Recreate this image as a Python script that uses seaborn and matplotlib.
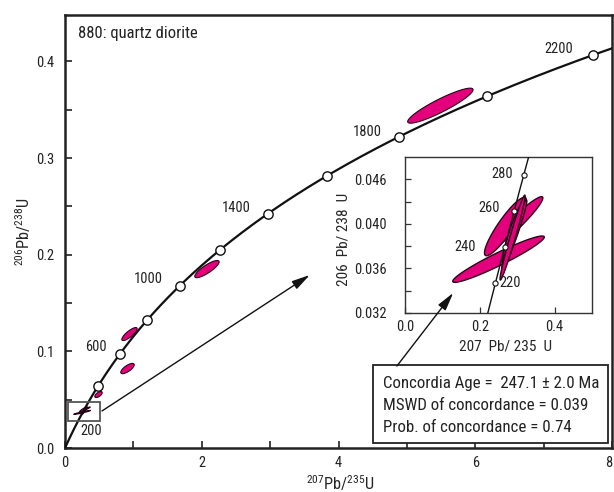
import numpy as np
import pandas as pd
import matplotlib
matplotlib.use("Agg")
import matplotlib.pyplot as plt
import seaborn as sns
from matplotlib import font_manager
from matplotlib.patches import Rectangle
from matplotlib.ticker import FixedLocator

# ---------------- data ----------------
lambda_238 = 1.55125e-10
lambda_235 = 9.8485e-10

sample_name = "880: quartz diorite"

main_marker_ages = [400, 600, 800, 1000, 1200, 1400, 1600, 1800, 2000, 2200]
main_label_ages = ["200", "600", "1000", "1400", "1800", "2200"]
inset_marker_ages = [220, 240, 260, 280]
inset_label_ages = ["220", "240", "260", "280"]

# older spots (207/235 centre, half-extent, 206/238 centre, half-extent, rho)
spot_x = [5.49, 2.076, 0.943, 0.914, 0.490]
spot_sx = [0.478, 0.178, 0.112, 0.098, 0.054]
spot_y = [0.3542, 0.1851, 0.1179, 0.0822, 0.0553]
spot_sy = [0.0181, 0.0089, 0.0067, 0.0053, 0.0031]
spot_rho = [0.91, 0.84, 0.82, 0.73, 0.62]

# young concordant cluster (shown in the inset)
young_x = [0.250, 0.298, 0.2685, 0.2894, 0.2921, 0.2876]
young_sx = [0.1224, 0.0706, 0.0560, 0.0290, 0.0337, 0.0335]
young_y = [0.03683, 0.04012, 0.03976, 0.03918, 0.0390, 0.03877]
young_sy = [0.00208, 0.00232, 0.00262, 0.00272, 0.00314, 0.00381]
young_rho = [0.953, 0.950, 0.90, 0.91, 0.969, 0.975]

concordia_age = "247.1"
concordia_err = "2.0"
mswd = "0.039"
prob = "0.74"

main_xticks = [0, 2, 4, 6, 8]
main_xtick_labels = ["0", "2", "4", "6", "8"]
main_yticks = [0.0, 0.1, 0.2, 0.3, 0.4]
main_ytick_labels = ["0.0", "0.1", "0.2", "0.3", "0.4"]
inset_xticks = [0.0, 0.2, 0.4]
inset_xtick_labels = ["0.0", "0.2", "0.4"]
inset_yticks = [0.032, 0.036, 0.040, 0.044]
inset_ytick_labels = ["0.032", "0.036", "0.040", "0.046"]

# ---------------- layout ----------------
main_label_pos = [(0.39, 0.0176), (0.458, 0.1044), (1.215, 0.1748),
                  (2.51, 0.2479), (4.42, 0.3268), (7.22, 0.4126)]
inset_label_pos = [(0.282, 0.03472), (0.1611, 0.03795),
                   (0.2237, 0.04139), (0.2596, 0.04447)]

# ---------------- style ----------------
sns.set_theme(style="ticks")
fl = font_manager.fontManager.ttflist
names = {f.name for f in fl}
FONT, STRETCH, K = None, "normal", 1.0
for cand, k in [("Liberation Sans Narrow", 1.0), ("Roboto Condensed", 0.95),
                ("Noto Sans Condensed", 0.95), ("Open Sans Condensed", 0.92)]:
    if cand in names:
        FONT, K = cand, k
        break
if FONT is None:
    cond_fams = [f.name for f in fl if f.stretch in ("condensed", "semi-condensed")
                 and f.style == "normal" and f.weight in (400, "normal", "regular")]
    for pref in ["Roboto", "Noto Sans", "Open Sans", "DejaVu Sans"]:
        if pref in cond_fams:
            FONT, STRETCH = pref, "condensed"
            K = 0.95 if pref != "DejaVu Sans" else 0.80
            break
if FONT is None:
    FONT, K = "DejaVu Sans", 0.72

plt.rcParams["font.family"] = [FONT, "DejaVu Sans"]
plt.rcParams["font.stretch"] = STRETCH
plt.rcParams["mathtext.fontset"] = "custom"
plt.rcParams["mathtext.rm"] = FONT
plt.rcParams["mathtext.it"] = FONT
plt.rcParams["mathtext.bf"] = FONT
plt.rcParams["text.color"] = "#222222"

FS_TICK = 11 * K
FS_LAB = 12.4 * K
FS_TITLE = 12.6 * K
FS_BOX = 12.8 * K

MAGENTA = "#E4007C"
EDGE = "#2a0018"


def ellipse(cx, cy, sx, sy, rho, n=160):
    th = np.linspace(0, 2 * np.pi, n)
    u = np.cos(th)
    v = rho * np.cos(th) + np.sqrt(1 - rho ** 2) * np.sin(th)
    return cx + sx * u, cy + sy * v


def concordia(t0, t1, n=400):
    t = np.linspace(t0, t1, n) * 1e6
    return pd.DataFrame({"x": np.expm1(lambda_235 * t), "y": np.expm1(lambda_238 * t)})


def age_points(ages):
    t = np.asarray(ages, dtype=float) * 1e6
    return pd.DataFrame({"x": np.expm1(lambda_235 * t), "y": np.expm1(lambda_238 * t)})


fig = plt.figure(figsize=(6.14, 4.92), dpi=100)
fig.patch.set_facecolor("white")

# ---------------- main axes ----------------
ax = fig.add_axes([65 / 614, 44 / 492, 547 / 614, 433 / 492])
ax.set_facecolor("white")
ax.set_xlim(0, 8)
ax.set_ylim(0, 0.448)

for cx, sx, cy, sy, r in zip(spot_x + young_x, spot_sx + young_sx,
                             spot_y + young_y, spot_sy + young_sy,
                             spot_rho + young_rho):
    ex, ey = ellipse(cx, cy, sx, sy, r)
    ax.fill(ex, ey, facecolor=MAGENTA, edgecolor=EDGE, lw=0.8, zorder=2)

sns.lineplot(data=concordia(0, 2260), x="x", y="y", sort=False, estimator=None,
             color="#111111", lw=1.6, ax=ax, zorder=3, legend=False)
sns.scatterplot(data=age_points(main_marker_ages), x="x", y="y", s=45,
                color="white", edgecolor="#111111", linewidth=1.0, ax=ax,
                zorder=4, legend=False)

for lab, (lx, ly) in zip(main_label_ages, main_label_pos):
    ax.text(lx, ly, lab, ha="center", va="center", fontsize=FS_TICK, zorder=5)

ax.text(0.024, 0.958, sample_name, transform=ax.transAxes, ha="left", va="center",
        fontsize=FS_TITLE)

# zoom box
ax.add_patch(Rectangle((0.05, 0.028), 0.46, 0.020, fill=False, edgecolor="#555555",
                       lw=1.3, zorder=5))
ax.annotate("", xy=(3.58, 0.179), xytext=(0.541, 0.0383),
            arrowprops=dict(arrowstyle="-|>,head_length=1.1,head_width=0.28",
                            color="#111111", lw=1.0, shrinkA=0, shrinkB=0,
                            mutation_scale=10), zorder=5)

ax.set_xticks(main_xticks)
ax.set_xticklabels(main_xtick_labels)
ax.set_yticks(main_yticks)
ax.set_yticklabels(main_ytick_labels)
ax.get_xticklabels()[-1].set_horizontalalignment("right")
ax.xaxis.set_minor_locator(FixedLocator([1, 3, 5, 7]))
ax.yaxis.set_minor_locator(FixedLocator([0.05, 0.15, 0.25, 0.35]))
ax.tick_params(which="both", direction="in", length=5, width=1.2, color="#222222",
               labelsize=FS_TICK, labelcolor="#222222")
ax.tick_params(axis="y", which="both", pad=8)
ax.tick_params(axis="x", which="both", pad=6)
for s in ax.spines.values():
    s.set_linewidth(1.8)
    s.set_color("#222222")

ax.set_xlabel(r"$^{207}$Pb/$^{235}$U", fontsize=FS_LAB)
ax.xaxis.set_label_coords(0.503, -0.058)
ax.set_ylabel(r"$^{206}$Pb/$^{238}$U", fontsize=FS_LAB, va="bottom")
ax.yaxis.set_label_coords(-0.058, 0.5)

# legend box with concordia age
ax.add_patch(Rectangle((0.563, 0.0115), 0.43, 0.180, transform=ax.transAxes,
                       facecolor="white", edgecolor="#222222", lw=1.3, zorder=6))
box_lines = [f"Concordia Age =  {concordia_age} \u00b1 {concordia_err} Ma",
             f"MSWD of concordance = {mswd}",
             f"Prob. of concordance = {prob}"]
for i, line in enumerate(box_lines):
    ax.text(0.581, 0.150 - i * 0.0508, line, transform=ax.transAxes, ha="left",
            va="center", fontsize=FS_BOX, zorder=7)

# ---------------- inset ----------------
ins = fig.add_axes([405 / 614, 179 / 492, 187 / 614, 156 / 492])
ins.set_facecolor("white")
ins.set_zorder(10)
ins.set_xlim(0, 0.5)
ins.set_ylim(0.032, 0.046)

for cx, sx, cy, sy, r in zip(young_x, young_sx, young_y, young_sy, young_rho):
    ex, ey = ellipse(cx, cy, sx, sy, r)
    ins.fill(ex, ey, facecolor=MAGENTA, edgecolor=EDGE, lw=1.0, zorder=2)

sns.lineplot(data=concordia(200, 300), x="x", y="y", sort=False, estimator=None,
             color="#111111", lw=1.0, ax=ins, zorder=3, legend=False)
sns.scatterplot(data=age_points(inset_marker_ages), x="x", y="y", s=14,
                color="white", edgecolor="#111111", linewidth=0.8, ax=ins,
                zorder=4, legend=False)
for lab, (lx, ly) in zip(inset_label_ages, inset_label_pos):
    ins.text(lx, ly, lab, ha="center", va="center", fontsize=FS_TICK, zorder=5)

ins.set_xticks(inset_xticks)
ins.set_xticklabels(inset_xtick_labels)
ins.set_yticks(inset_yticks)
ins.set_yticklabels(inset_ytick_labels)
ins.yaxis.set_minor_locator(FixedLocator([0.034, 0.038, 0.042]))
ins.tick_params(which="both", direction="in", length=4, width=0.9, color="#333333",
                labelsize=FS_TICK, labelcolor="#222222")
ins.tick_params(axis="y", which="both", pad=13)
ins.tick_params(axis="x", which="both", pad=5)
for s in ins.spines.values():
    s.set_linewidth(1.0)
    s.set_color("#333333")
ins.set_xlabel("207  Pb/ 235  U", fontsize=FS_TICK * 1.05)
ins.xaxis.set_label_coords(0.535, -0.173)
ins.set_ylabel("206  Pb/ 238  U", fontsize=FS_TICK * 1.05, va="bottom")
ins.yaxis.set_label_coords(-0.294, 0.47)

# arrow from the concordia-age box into the inset
ins.annotate("", xy=(0.1289, 0.0338), xytext=(4.854, 0.0848), textcoords=ax.transData,
             arrowprops=dict(arrowstyle="-|>,head_length=1.1,head_width=0.28",
                             color="#111111", lw=1.0, shrinkA=0, shrinkB=0,
                             mutation_scale=10), annotation_clip=False, zorder=8)

fig.savefig("out.png", dpi=100, facecolor="white")
